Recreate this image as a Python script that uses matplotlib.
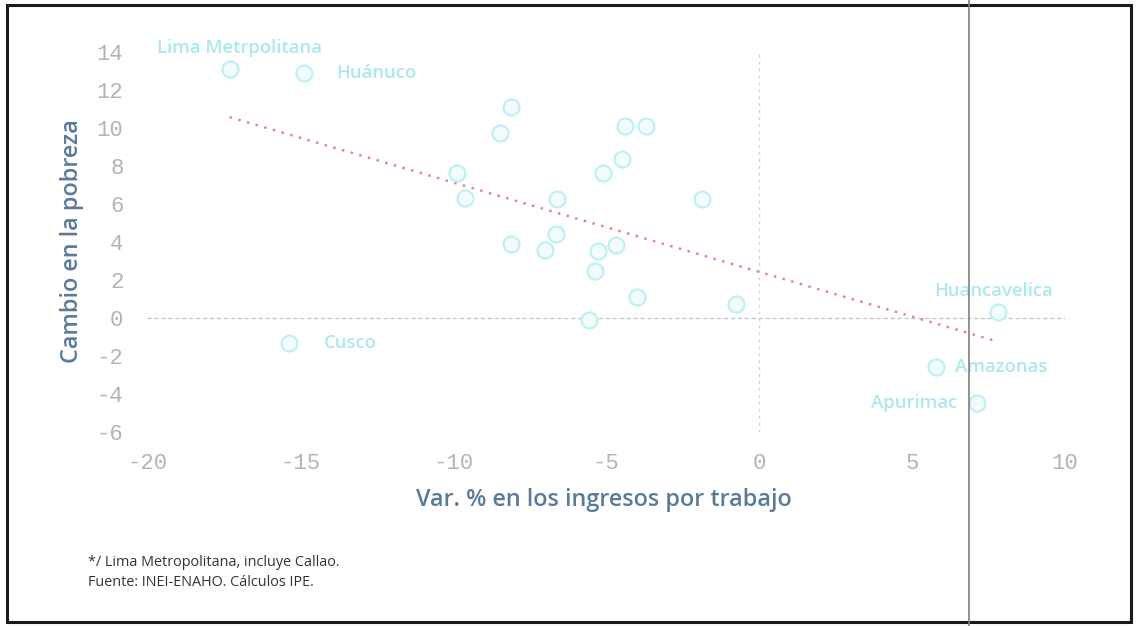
import numpy as np
import matplotlib
matplotlib.use("Agg")
import matplotlib.pyplot as plt
from matplotlib.lines import Line2D

# ---- data ----
ingresos = [-17.3, -14.87, -8.12, -8.48, -4.39, -3.70, -4.49, -5.10, -9.86, -9.60,
            -6.60, -1.85, -6.65, -8.10, -6.99, -5.26, -4.68, -5.35, -4.00, -0.75,
            -5.55, -15.35, 7.80, 5.78, 7.12]
pobreza = [13.1, 12.9, 11.1, 9.75, 10.1, 10.1, 8.35, 7.65, 7.65, 6.3,
           6.25, 6.25, 4.4, 3.9, 3.6, 3.5, 3.85, 2.45, 1.08, 0.75,
           -0.08, -1.3, 0.3, -2.58, -4.45]
etiquetas = ["Lima Metrpolitana", "Huánuco", "", "", "", "", "", "", "", "",
             "", "", "", "", "", "", "", "", "", "",
             "", "Cusco", "Huancavelica", "Amazonas", "Apurimac"]
x_ticks = [-20, -15, -10, -5, 0, 5, 10]
y_ticks = [-6, -4, -2, 0, 2, 4, 6, 8, 10, 12, 14]

# label placement: (dx pts, dy pts, ha, va)
label_pos = {
    "Lima Metrpolitana": (7, 9, "center", "bottom"),
    "Huánuco": (23, 0, "left", "center"),
    "Cusco": (25, 0, "left", "center"),
    "Huancavelica": (-3, 9, "center", "bottom"),
    "Amazonas": (14, 0, "left", "center"),
    "Apurimac": (-14, 0, "right", "center"),
}

W, H = 1137, 626
fig = plt.figure(figsize=(W / 100, H / 100), dpi=100)
fig.patch.set_facecolor("white")

ax = fig.add_axes([147 / W, 1 - 432 / H, (1065 - 147) / W, (432 - 52) / H])
ax.set_xlim(-20, 10)
ax.set_ylim(-6, 14)
for s in ax.spines.values():
    s.set_visible(False)
ax.set_facecolor("none")

# zero lines
ax.axhline(0, color="#c8c8c8", lw=1.0, ls=(0, (3, 2)), zorder=1)
ax.axvline(0, color="#d2d2d2", lw=1.0, ls=(0, (2, 3)), zorder=1)

# trend
xs = np.array(ingresos)
ys = np.array(pobreza)
m, b = np.polyfit(xs, ys, 1)
tx = np.array([xs.min(), xs.max()])
ax.plot(tx, m * tx + b, color="#e48494", lw=1.8, ls=(0, (1, 2.6)), zorder=2)

# points
ax.plot(xs, ys, "o", ms=11.5, mfc="#f2fcfd", mec="#c0f0f4", mew=1.6, zorder=3, ls="none")

lab_col = "#ace8ef"
for x, y, t in zip(ingresos, pobreza, etiquetas):
    if not t:
        continue
    dx, dy, ha, va = label_pos[t]
    ax.annotate(t, (x, y), xytext=(dx, dy), textcoords="offset points",
                ha=ha, va=va, fontsize=13.3, color=lab_col, fontweight="semibold",
                family="Open Sans", annotation_clip=False, zorder=4)

ax.set_xticks(x_ticks)
ax.set_yticks(y_ticks)
ax.set_xticklabels([str(v) for v in x_ticks])
ax.set_yticklabels([str(v) for v in y_ticks])
ax.tick_params(length=0, labelsize=16, labelcolor="#b4b4b4", pad=15)
ax.tick_params(axis="y", pad=17)
for lab in ax.get_xticklabels() + ax.get_yticklabels():
    lab.set_family("Liberation Mono")

axis_col = "#5a7a9a"
fig.text(604 / W, 1 - 500 / H, "Var. % en los ingresos por trabajo", ha="center", va="center",
         fontsize=16.8, color=axis_col, family="Open Sans", fontweight="semibold")
fig.text(72 / W, 1 - 241 / H, "Cambio en la pobreza", ha="center", va="center", rotation=90,
         fontsize=16.8, color=axis_col, family="Open Sans", fontweight="semibold")

fig.text(88 / W, 1 - 563 / H, "*/ Lima Metropolitana, incluye Callao.", ha="left", va="center",
         fontsize=10.4, color="#333333", family="Open Sans")
fig.text(88 / W, 1 - 583 / H, "Fuente: INEI-ENAHO. Cálculos IPE.", ha="left", va="center",
         fontsize=10.4, color="#333333", family="Open Sans")

# outer frame and scan line
fig.add_artist(plt.Rectangle((7 / W, 1 - 622 / H), (1131 - 7) / W, (622 - 5) / H,
                             transform=fig.transFigure, fill=False, ec="#1a1a1a", lw=2.2))
fig.add_artist(Line2D([969 / W, 969 / W], [0, 1], transform=fig.transFigure,
                      color="#808080", lw=1.2))

fig.savefig("out.png", dpi=100, facecolor="white")
